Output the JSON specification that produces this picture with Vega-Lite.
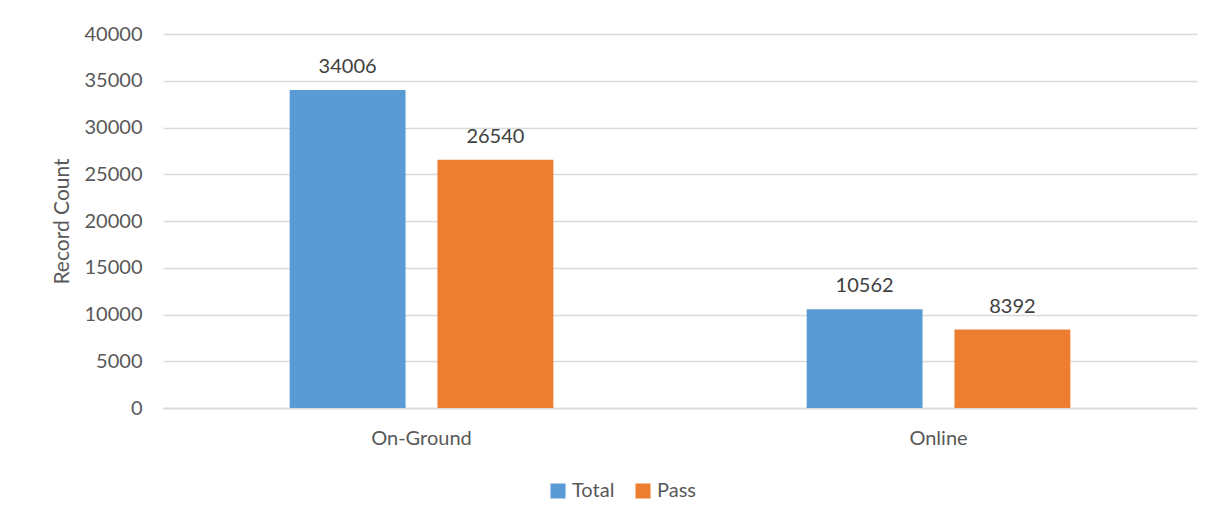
{
  "$schema": "https://vega.github.io/schema/vega-lite/v6.json",
  "width": 1034,
  "height": 374,
  "autosize": {"type": "none"},
  "padding": {"left": 163, "top": 34, "right": 21, "bottom": 119},
  "background": "#ffffff",
  "config": {
    "font": "Lato",
    "view": {"stroke": null},
    "axis": {"labelFont": "Lato", "titleFont": "Lato"}
  },
  "data": {
    "values": [
      {"mode": "On-Ground", "series": "Total", "count": 34006},
      {"mode": "On-Ground", "series": "Pass", "count": 26540},
      {"mode": "Online", "series": "Total", "count": 10562},
      {"mode": "Online", "series": "Pass", "count": 8392}
    ]
  },
  "encoding": {
    "x": {
      "field": "mode",
      "type": "nominal",
      "sort": ["On-Ground", "Online"],
      "scale": {"paddingInner": 0.49, "paddingOuter": 0.245},
      "axis": {
        "title": null,
        "labelAngle": 0,
        "labelColor": "#595959",
        "labelFontSize": 20,
        "labelPadding": 20,
        "ticks": false,
        "domainColor": "#d9d9d9",
        "domainWidth": 1.5
      }
    },
    "xOffset": {
      "field": "series",
      "type": "nominal",
      "sort": ["Total", "Pass"],
      "scale": {"paddingInner": 0.216, "paddingOuter": 0}
    },
    "y": {
      "field": "count",
      "type": "quantitative",
      "scale": {"domain": [0, 40000], "nice": false},
      "axis": {
        "title": "Record Count",
        "titleColor": "#595959",
        "titleFontSize": 21,
        "titleFontWeight": "normal",
        "titlePadding": 12,
        "values": [0, 5000, 10000, 15000, 20000, 25000, 30000, 35000, 40000],
        "format": "d",
        "labelColor": "#595959",
        "labelFontSize": 20,
        "labelPadding": 21,
        "ticks": false,
        "domain": false,
        "gridColor": "#d9d9d9",
        "gridWidth": 1.5
      }
    }
  },
  "layer": [
    {
      "mark": {"type": "bar"},
      "encoding": {
        "color": {
          "field": "series",
          "type": "nominal",
          "sort": ["Total", "Pass"],
          "scale": {"domain": ["Total", "Pass"], "range": ["#5B9BD5", "#ED7D31"]},
          "legend": {
            "title": null,
            "orient": "none",
            "direction": "horizontal",
            "legendX": 385,
            "legendY": 447,
            "symbolType": "square",
            "symbolSize": 225,
            "symbolStrokeWidth": 0,
            "labelFontSize": 20,
            "labelColor": "#595959",
            "labelFont": "Lato",
            "columnPadding": 18,
            "labelOffset": 4
          }
        }
      }
    },
    {
      "mark": {"type": "text", "baseline": "alphabetic", "dy": -17, "fontSize": 20, "color": "#404040", "font": "Lato"},
      "encoding": {
        "text": {"field": "count", "type": "quantitative", "format": "d"}
      }
    }
  ]
}
